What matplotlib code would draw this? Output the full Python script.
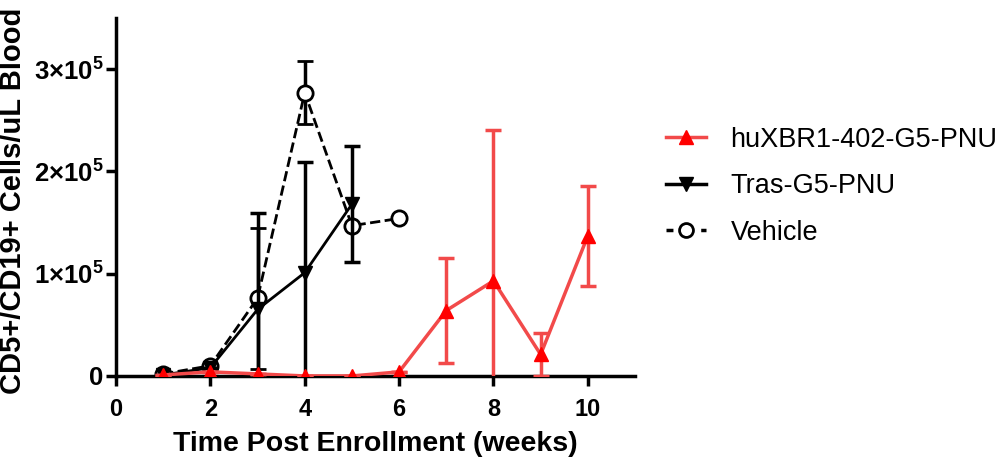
import numpy as np
import matplotlib.pyplot as plt
from matplotlib.lines import Line2D

plt.rcParams['font.family'] = ['Liberation Sans', 'DejaVu Sans']
plt.rcParams['mathtext.fontset'] = 'custom'
plt.rcParams['mathtext.rm'] = 'Liberation Sans:bold'
plt.rcParams['mathtext.bf'] = 'Liberation Sans:bold'

# weeks post enrollment
hux_weeks = [1, 2, 3, 4, 5, 6, 7, 8, 9, 10]
hux_mean = [0.01e5, 0.04e5, 0.02e5, 0.0, 0.0, 0.04e5, 0.64e5, 0.93e5, 0.21e5, 1.37e5]
hux_err = [0, 0, 0, 0, 0, 0, 0.51e5, 1.48e5, 0.21e5, 0.49e5]

tras_weeks = [1, 2, 3, 4, 5]
tras_mean = [0.01e5, 0.08e5, 0.65e5, 1.01e5, 1.68e5]
tras_err = [0, 0, 0.94e5, 1.08e5, 0.57e5]

veh_weeks = [1, 2, 3, 4, 5, 6]
veh_mean = [0.02e5, 0.10e5, 0.76e5, 2.77e5, 1.47e5, 1.54e5]
veh_err = [0, 0, 0.69e5, 0.31e5, 0, 0]

xticks = [0, 2, 4, 6, 8, 10]
yticks = [0, 1e5, 2e5, 3e5]
ytick_labels = ['0', r'$\mathbf{1{\times}10^5}$', r'$\mathbf{2{\times}10^5}$', r'$\mathbf{3{\times}10^5}$']

fig = plt.figure(figsize=(10, 4.63), dpi=100)
ax = fig.add_axes([0.116, 0.188, 0.519, 0.773])

red_line = '#f24a4a'
red_mark = '#ff0000'

ax.errorbar(veh_weeks, veh_mean, yerr=veh_err, color='black', ls='--', lw=2,
            marker='o', ms=11, mfc='white', mec='black', mew=2,
            capsize=6, capthick=2.5, elinewidth=2.5, zorder=3)
ax.errorbar(tras_weeks, tras_mean, yerr=tras_err, color='black', ls='-', lw=2,
            marker='v', ms=10, mfc='black', mec='black',
            capsize=6, capthick=2.5, elinewidth=2.5, zorder=4)
ax.errorbar(hux_weeks, hux_mean, yerr=hux_err, color=red_line, ls='-', lw=2.5,
            marker='^', ms=10, mfc=red_mark, mec=red_mark,
            capsize=6, capthick=2.5, elinewidth=2.5, zorder=5)

ax.set_xlim(0, 11)
ax.set_ylim(0, 3.5e5)
ax.set_xticks(xticks)
ax.set_yticks(yticks)
ax.set_yticklabels(ytick_labels)

for s in ['top', 'right']:
    ax.spines[s].set_visible(False)
for s in ['left', 'bottom']:
    ax.spines[s].set_linewidth(2.5)
ax.tick_params(width=2.5, length=7, labelsize=17)
ax.tick_params(axis='x', pad=9)
ax.tick_params(axis='y', pad=2, labelsize=18.5)
for lab in ax.get_xticklabels() + ax.get_yticklabels():
    lab.set_fontweight('bold')

ax.set_xlabel('Time Post Enrollment (weeks)', fontsize=20.5, fontweight='bold', labelpad=7)
ax.set_ylabel('CD5+/CD19+ Cells/uL Blood', fontsize=21, fontweight='bold')
ax.yaxis.set_label_coords(-0.172, 0.49)

handles = [
    Line2D([], [], color=red_line, lw=2.5, marker='^', ms=10, mfc=red_mark, mec=red_mark),
    Line2D([], [], color='black', lw=2.5, marker='v', ms=10, mfc='black', mec='black'),
    Line2D([], [], color='black', lw=2.5, ls=(0, (2, 3)), marker='o', ms=10, mfc='white', mec='black', mew=2),
]
labels = ['huXBR1-402-G5-PNU', 'Tras-G5-PNU', 'Vehicle']
ax.legend(handles, labels, loc='center left',
          bbox_to_anchor=(1.012, 0.53), frameon=False, fontsize=19.5,
          handlelength=1.5, labelspacing=0.75, handletextpad=0.9)

fig.savefig('out.png', dpi=100)
